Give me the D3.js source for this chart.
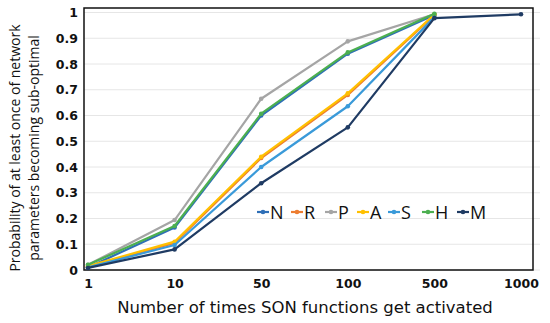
<!DOCTYPE html>
<html><head><meta charset="utf-8">
<script src="https://cdn.jsdelivr.net/npm/d3@7"></script>
<style>body{margin:0;background:#fff}svg{display:block}</style>
</head><body><svg id="c" width="550" height="323"></svg>
<script>
const categories = ["1","10","50","100","500","1000"];
const seriesNames = ["N","R","P","A","S","H","M"];
const colors = ["#2E6FB7","#ED7D31","#A5A5A5","#FFC000","#3A9AD9","#4CAF50","#1F3B63"];
const N = [0.01,0.165,0.600,0.840,0.990,null];
const R = [0.012,0.105,0.435,0.680,0.990,null];
const P = [0.02,0.194,0.665,0.888,0.993,null];
const A = [0.015,0.110,0.440,0.686,0.992,null];
const S = [0.01,0.097,0.400,0.636,0.982,null];
const H = [0.02,0.171,0.607,0.845,0.995,null];
const M = [0.008,0.080,0.337,0.554,0.978,0.993];
const yTicks = [0,0.1,0.2,0.3,0.4,0.5,0.6,0.7,0.8,0.9,1];
const series = [N,R,P,A,S,H,M];

const svg = d3.select("#c");
const fx0=84, fx1=533, fy0=8, fy1=270;
const x = d3.scalePoint().domain(categories).range([88,521]);
const y = d3.scaleLinear().domain([0,1]).range([270,12.5]);

svg.append("g").selectAll("line").data(yTicks).join("line")
  .attr("x1",fx0).attr("x2",540).attr("y1",d=>y(d)).attr("y2",d=>y(d))
  .attr("stroke","#e6e6e6").attr("stroke-width",1);

svg.append("rect").attr("x",fx0).attr("y",fy0).attr("width",fx1-fx0).attr("height",fy1-fy0)
  .attr("fill","none").attr("stroke","#111").attr("stroke-width",1.5);

const yAxis = d3.axisLeft(y).tickValues(yTicks).tickSize(0).tickPadding(6)
  .tickFormat(d=>d===0?"0":d===1?"1":d3.format(".1f")(d));
const ga = svg.append("g").attr("transform",`translate(${fx0},0)`).call(yAxis);
ga.select(".domain").remove();
ga.selectAll("text").attr("font-family","DejaVu Sans").attr("font-weight","bold").attr("font-size",12.5).attr("fill","#111");

const xAxis = d3.axisBottom(x).tickSize(0).tickPadding(9);
const gx = svg.append("g").attr("transform",`translate(0,${fy1})`).call(xAxis);
gx.select(".domain").remove();
gx.selectAll("text").attr("font-family","DejaVu Sans").attr("font-weight","bold").attr("font-size",12.5).attr("fill","#111");

const line = d3.line().defined(d=>d.v!=null).x(d=>x(d.c)).y(d=>y(d.v));
series.forEach((s,i)=>{
  const pts = categories.map((c,j)=>({c, v:s[j]}));
  svg.append("path").datum(pts).attr("d",line).attr("fill","none")
    .attr("stroke",colors[i]).attr("stroke-width",2.2).attr("stroke-linejoin","round");
  svg.append("g").selectAll("circle").data(pts.filter(d=>d.v!=null)).join("circle")
    .attr("cx",d=>x(d.c)).attr("cy",d=>y(d.v)).attr("r",2.3).attr("fill",colors[i]);
});

const lg = svg.append("g");
const lx = [257,291,325,357,388,422,457];
seriesNames.forEach((n,i)=>{
  const g = lg.append("g").attr("transform",`translate(${lx[i]},212)`);
  g.append("line").attr("x1",0).attr("x2",12).attr("y1",0).attr("y2",0).attr("stroke",colors[i]).attr("stroke-width",2.2);
  g.append("circle").attr("cx",6).attr("cy",0).attr("r",2.3).attr("fill",colors[i]);
  g.append("text").attr("x",13).attr("y",6.5).text(n).attr("font-family","Open Sans").attr("font-size",18).attr("fill","#111");
});

svg.append("text").attr("x",305).attr("y",313).attr("text-anchor","middle")
  .attr("font-family","DejaVu Sans").attr("font-size",16.5).attr("fill","#111")
  .text("Number of times SON functions get activated");
const yt = svg.append("text").attr("transform","translate(0,148) rotate(-90)").attr("text-anchor","middle")
  .attr("font-family","Open Sans").attr("font-size",14).attr("fill","#111");
yt.append("tspan").attr("x",0).attr("y",20).text("Probability of at least once of network");
yt.append("tspan").attr("x",0).attr("y",39).text("parameters becoming sub-optimal");
</script></body></html>
